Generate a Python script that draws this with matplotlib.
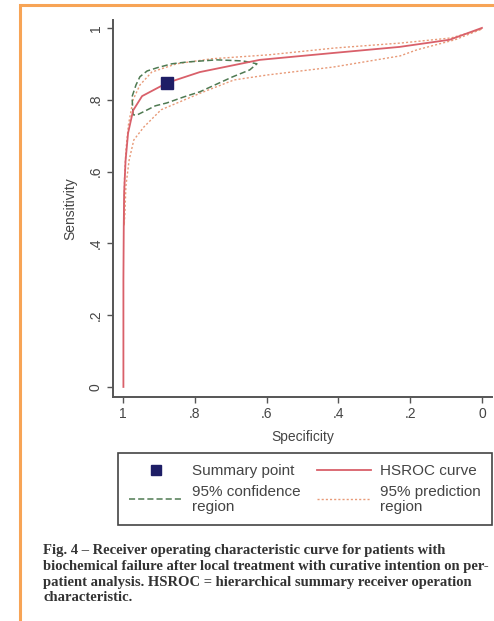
import matplotlib
matplotlib.use('Agg')
import matplotlib.pyplot as plt
from matplotlib.lines import Line2D
from matplotlib.patches import Rectangle

plt.rcParams['font.family'] = ['Liberation Sans', 'DejaVu Sans']

# values (specificity, sensitivity)
hsroc_spec = [0.999, 0.999, 0.998, 0.997, 0.993, 0.986, 0.972, 0.947, 0.877,
              0.786, 0.619, 0.416, 0.230, 0.090, 0.0]
hsroc_sens = [0.0, 0.30, 0.45, 0.54, 0.63, 0.707, 0.77, 0.81, 0.847,
              0.877, 0.911, 0.930, 0.947, 0.967, 1.0]

summary_spec = [0.877]
summary_sens = [0.847]

ci_spec = [0.972, 0.975, 0.964, 0.953, 0.933, 0.905, 0.864, 0.822, 0.739,
           0.666, 0.627, 0.647, 0.694, 0.740, 0.786, 0.830, 0.878, 0.910,
           0.940, 0.962, 0.972]
ci_sens = [0.758, 0.808, 0.841, 0.864, 0.880, 0.889, 0.900, 0.905, 0.911,
           0.908, 0.900, 0.883, 0.864, 0.843, 0.822, 0.808, 0.791, 0.783,
           0.768, 0.757, 0.758]

pred_spec = [0.997, 0.996, 0.992, 0.985, 0.972, 0.953, 0.920, 0.851, 0.753,
             0.594, 0.410, 0.224, 0.086, 0.0,
             0.075, 0.181, 0.228, 0.414, 0.597, 0.691, 0.783, 0.894, 0.942,
             0.970, 0.983, 0.992, 0.995, 0.997]
pred_sens = [0.45, 0.58, 0.66, 0.73, 0.80, 0.841, 0.877, 0.900, 0.914,
             0.925, 0.944, 0.958, 0.972, 0.997,
             0.967, 0.939, 0.922, 0.891, 0.869, 0.855, 0.819, 0.772, 0.724,
             0.688, 0.632, 0.56, 0.48, 0.45]

ticks = [1, 0.8, 0.6, 0.4, 0.2, 0]
tick_labels = ['1', '.8', '.6', '.4', '.2', '0']

caption = ("Fig. 4 \u2013 Receiver operating characteristic curve for patients with\n"
           "biochemical failure after local treatment with curative intention on per-\n"
           "patient analysis. HSROC = hierarchical summary receiver operation\n"
           "characteristic.")

c_red = '#d9606a'
c_ci = '#4f7a52'
c_pred = '#e89a78'
c_pt = '#1e1e66'
c_axis = '#555555'

fig = plt.figure(figsize=(4.94, 6.21), dpi=100)
ax = fig.add_axes([113 / 494, 1 - 397 / 621, 379 / 494, 377 / 621])

ax.plot(pred_spec, pred_sens, color=c_pred, lw=1.0, ls=(0, (1.5, 1.5)))
ax.plot(ci_spec, ci_sens, color=c_ci, lw=1.1, ls=(0, (4, 2)))
ax.plot(hsroc_spec, hsroc_sens, color=c_red, lw=1.3)
ax.plot(summary_spec, summary_sens, 's', color=c_pt, ms=8)

ax.set_xlim(1.028, -0.028)
ax.set_ylim(-0.028, 1.022)
ax.set_xticks(ticks)
ax.set_xticklabels(tick_labels)
ax.set_yticks(ticks)
ax.set_yticklabels(tick_labels, rotation=90, va='center')
ax.tick_params(colors=c_axis, labelcolor='#444444', labelsize=10, length=4, width=1)
ax.spines[['top', 'right']].set_visible(False)
for s in ['left', 'bottom']:
    ax.spines[s].set_color(c_axis)
    ax.spines[s].set_linewidth(1.4)
ax.set_xlabel('Specificity', fontsize=10, color='#444444', labelpad=6)
ax.set_ylabel('Sensitivity', fontsize=10, color='#444444', labelpad=8)

handles = [
    Line2D([], [], ls='none', marker='s', color=c_pt, ms=7),
    Line2D([], [], color=c_ci, lw=1.1, ls=(0, (4, 2))),
    Line2D([], [], color=c_red, lw=1.3),
    Line2D([], [], color=c_pred, lw=1.0, ls=(0, (1.5, 1.5))),
]
labels = ['Summary point', '95% confidence\nregion', 'HSROC curve', '95% prediction\nregion']
leg = fig.legend(handles, labels, ncol=2, mode='expand',
                 bbox_to_anchor=(118 / 494, 1 - 525 / 621, 374 / 494, 70 / 621),
                 loc='lower left', fontsize=11, handlelength=3.5, handletextpad=0.6,
                 borderaxespad=0, fancybox=False, framealpha=1, labelspacing=0.45,
                 borderpad=0.75)
leg.get_frame().set_edgecolor('#444444')
leg.get_frame().set_linewidth(1.2)
for t in leg.get_texts():
    t.set_color('#444444')
    t.set_linespacing(1.05)

fig.text(43 / 494, 1 - 544 / 621, caption, fontsize=10.5, fontweight='bold',
         family=['Liberation Serif', 'DejaVu Serif'], color='#333333',
         va='top', ha='left', linespacing=1.28)

# orange frame around the figure
fig.patches.append(Rectangle((20 / 494, -0.05), 1.0, 1 - 5 / 621 + 0.05,
                             transform=fig.transFigure, fill=False,
                             edgecolor='#f7a456', lw=2.2))

fig.savefig('out.png', dpi=100)
